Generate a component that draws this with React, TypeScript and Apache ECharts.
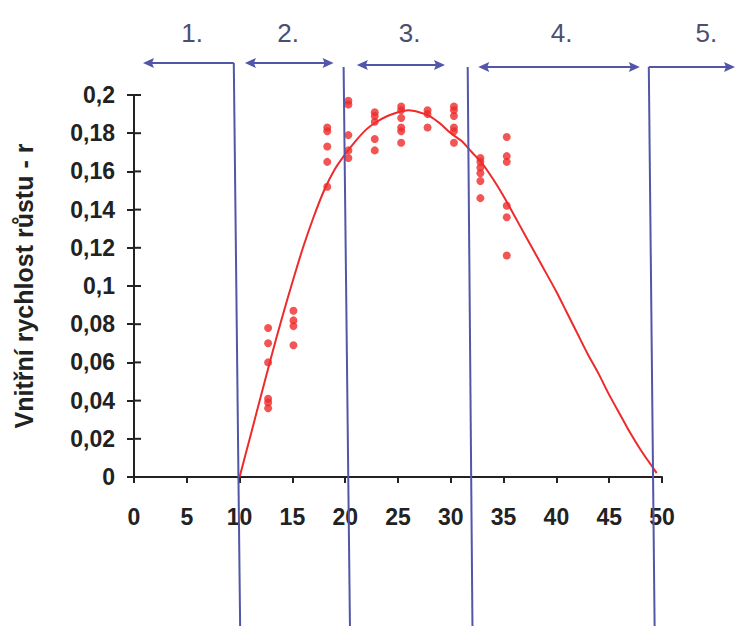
import React, { useEffect, useRef } from "react";
import * as echarts from "echarts";

// Fitted curve (temperature vs intrinsic growth rate)
const curveX = [10, 11, 12, 13, 14, 15, 16, 17, 18, 19, 20, 21, 22, 23, 24, 25, 26, 27, 28, 29, 30, 31, 32, 33, 34, 35, 36, 37, 38, 39, 40, 41, 42, 43, 44, 45, 46, 47, 48, 49, 49.5];
const curveY = [0, 0.021, 0.042, 0.063, 0.083, 0.102, 0.12, 0.136, 0.15, 0.161, 0.169, 0.176, 0.182, 0.186, 0.189, 0.191, 0.192, 0.191, 0.189, 0.185, 0.18, 0.176, 0.17, 0.164, 0.156, 0.147, 0.137, 0.127, 0.117, 0.107, 0.097, 0.086, 0.075, 0.064, 0.054, 0.043, 0.033, 0.023, 0.014, 0.006, 0.002];

// Measured points, grouped by temperature column
const dotColumns = [12.7, 15.1, 18.3, 20.3, 22.8, 25.3, 27.8, 30.3, 32.8, 35.3];
const dotValues = [
  [0.078, 0.07, 0.06, 0.041, 0.039, 0.036],
  [0.087, 0.082, 0.079, 0.069],
  [0.183, 0.181, 0.173, 0.165, 0.152],
  [0.197, 0.195, 0.179, 0.171, 0.167],
  [0.191, 0.189, 0.186, 0.177, 0.171],
  [0.194, 0.192, 0.188, 0.183, 0.181, 0.175],
  [0.192, 0.19, 0.183],
  [0.194, 0.192, 0.189, 0.183, 0.181, 0.175],
  [0.167, 0.165, 0.162, 0.159, 0.155, 0.146],
  [0.178, 0.168, 0.165, 0.142, 0.136, 0.116],
];

// Zone boundaries (x values at top and bottom of the slightly tilted scan lines)
const boundaryTop = [9.45, 19.85, 31.6, 48.75];
const boundaryBottom = [10.05, 20.45, 32.05, 49.3];
const zoneLabels = ["1.", "2.", "3.", "4.", "5."];
const zoneLabelX = [5.5, 14.6, 26.1, 40.5, 54.2];
// Arrow extents in x units
const arrowStart = [0.85, 10.5, 21.1, 32.6, 48.75];
const arrowEnd = [9.45, 18.9, 29.45, 47.9, 57.0];
const arrowHeadLeft = [true, true, true, true, false];
const arrowHeadRight = [false, true, true, true, true];

const yMin = 0;
const yMax = 0.2;
const yStep = 0.02;
const yTitle = "Vnitřní rychlost růstu - r";

const BLUE = "#5256a8";
const RED = "#ee2a2a";
const AXIS = "#222222";
const FONT = "'Liberation Sans', Arial, sans-serif";

export default function App() {
  const ref = useRef<HTMLDivElement>(null);
  useEffect(() => {
    document.body.style.margin = "0";
    const chart = echarts.init(ref.current!, null, { renderer: "svg" });
    const dots: number[][] = [];
    dotColumns.forEach((x, i) => dotValues[i].forEach((v) => dots.push([x, v])));
    const fmt = (v: number) => String(+v.toFixed(2)).replace(".", ",");
    chart.setOption({
      animation: false,
      backgroundColor: "#ffffff",
      grid: { left: 134, right: 74, top: 95, bottom: 149 },
      xAxis: {
        type: "value",
        min: 0,
        max: 50,
        interval: 5,
        axisLine: { show: true, onZero: false, lineStyle: { color: AXIS, width: 2 } },
        axisTick: { show: true, length: 6, lineStyle: { color: AXIS, width: 2 } },
        axisLabel: { color: AXIS, fontSize: 23, fontWeight: "bold", fontFamily: FONT, margin: 28 },
        splitLine: { show: false },
      },
      yAxis: {
        type: "value",
        min: yMin,
        max: yMax,
        interval: yStep,
        name: yTitle,
        nameLocation: "middle",
        nameGap: 98,
        nameTextStyle: { color: AXIS, fontSize: 25, fontWeight: "bold", fontFamily: FONT },
        axisLine: { show: true, lineStyle: { color: AXIS, width: 2 } },
        axisTick: { show: true, length: 7, lineStyle: { color: AXIS, width: 2 } },
        axisLabel: { color: AXIS, fontSize: 23, fontWeight: "bold", fontFamily: FONT, margin: 19, formatter: fmt },
        splitLine: { show: false },
      },
      series: [
        {
          type: "line",
          data: curveX.map((x, i) => [x, curveY[i]]),
          smooth: 0.3,
          symbol: "none",
          lineStyle: { color: RED, width: 2 },
          z: 3,
        },
        {
          type: "scatter",
          data: dots,
          symbolSize: 8,
          itemStyle: { color: RED },
          z: 4,
        },
      ],
    });

    const toPx = (x: number, y: number) => chart.convertToPixel({ gridIndex: 0 }, [x, y]) as number[];
    const px = (x: number) => toPx(x, 0)[0];
    const graphics: any[] = [];

    // inner half of the crossing y-axis ticks
    const nTicks = Math.round((yMax - yMin) / yStep);
    for (let k = 0; k <= nTicks; k++) {
      const p = toPx(0, yMin + k * yStep);
      graphics.push({
        type: "line",
        shape: { x1: p[0], y1: p[1], x2: p[0] + 7, y2: p[1] },
        style: { stroke: AXIS, lineWidth: 2 },
        z: 5,
      });
    }

    const lineTopY = [63, 67, 67, 67];
    const arrowY = [63, 63, 65, 67, 67];
    boundaryTop.forEach((bt, i) => {
      graphics.push({
        type: "line",
        shape: { x1: px(bt), y1: lineTopY[i], x2: px(boundaryBottom[i]), y2: 626 },
        style: { stroke: BLUE, lineWidth: 2 },
        z: 10,
      });
    });
    const headL = 11;
    const headW = 5;
    arrowStart.forEach((s, i) => {
      const x1 = px(s);
      const x2 = px(arrowEnd[i]);
      const y = arrowY[i];
      graphics.push({
        type: "line",
        shape: { x1: arrowHeadLeft[i] ? x1 + 4 : x1, y1: y, x2: arrowHeadRight[i] ? x2 - 4 : x2, y2: y },
        style: { stroke: BLUE, lineWidth: 2 },
        z: 10,
      });
      if (arrowHeadLeft[i]) {
        graphics.push({
          type: "polygon",
          shape: { points: [[x1, y], [x1 + headL, y - headW], [x1 + headL - 2, y], [x1 + headL, y + headW]] },
          style: { fill: BLUE },
          z: 10,
        });
      }
      if (arrowHeadRight[i]) {
        const xr = Math.min(x2, 735);
        graphics.push({
          type: "polygon",
          shape: { points: [[xr, y], [xr - headL, y - headW], [xr - headL + 2, y], [xr - headL, y + headW]] },
          style: { fill: BLUE },
          z: 10,
        });
      }
    });
    zoneLabels.forEach((t, i) => {
      graphics.push({
        type: "text",
        x: px(zoneLabelX[i]),
        y: 33,
        style: {
          text: t,
          fill: "#4b4e6e",
          font: `26px ${FONT}`,
          align: "center",
          verticalAlign: "middle",
        },
        z: 10,
      });
    });
    chart.setOption({ graphic: graphics });
    return () => chart.dispose();
  }, []);
  return <div ref={ref} style={{ width: 736, height: 626 }} />;
}
